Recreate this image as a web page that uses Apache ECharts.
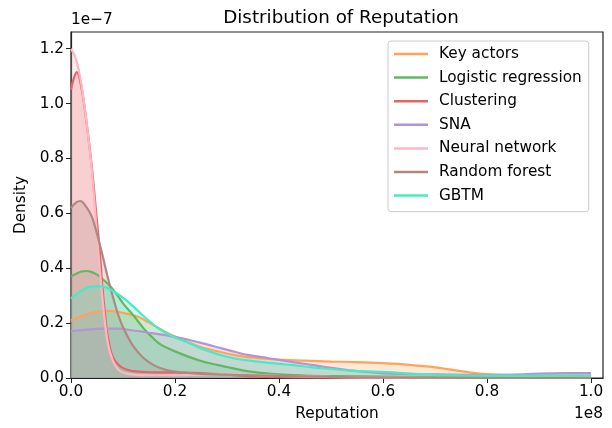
<!DOCTYPE html>
<html><head><meta charset="utf-8">
<script src="https://cdn.jsdelivr.net/npm/echarts@6/dist/echarts.min.js"></script>
<style>html,body{margin:0;padding:0;background:#fff}#c{width:612px;height:428px}</style>
</head><body><div id="c"></div>
<script>
const seriesNames = ['Key actors','Logistic regression','Clustering','SNA','Neural network','Random forest','GBTM'];
const seriesColors = ['#FFA35A','#62B862','#E06668','#B494D1','#FFB6C1','#AF8981','#45EBC8'];
const xTicks = [0,0.2,0.4,0.6,0.8,1.0];
const yTicks = [0,0.2,0.4,0.6,0.8,1.0,1.2];

const keyActors = [[0,0.21],[0.02,0.225],[0.04,0.238],[0.06,0.244],[0.07,0.245],[0.09,0.241],[0.11,0.233],[0.13,0.222],[0.15,0.202],[0.18,0.17],[0.2,0.151],[0.22,0.135],[0.25,0.113],[0.28,0.098],[0.31,0.085],[0.34,0.076],[0.38,0.07],[0.41,0.066],[0.45,0.063],[0.5,0.06],[0.55,0.058],[0.6,0.054],[0.65,0.048],[0.7,0.039],[0.75,0.025],[0.8,0.014],[0.85,0.01],[0.9,0.009],[0.95,0.009],[1.0,0.009]];
const logisticRegression = [[0,0.37],[0.01,0.38],[0.02,0.388],[0.03,0.39],[0.04,0.386],[0.05,0.377],[0.06,0.362],[0.075,0.335],[0.09,0.3],[0.1,0.272],[0.12,0.228],[0.14,0.18],[0.15,0.16],[0.17,0.125],[0.2,0.097],[0.25,0.062],[0.3,0.04],[0.35,0.022],[0.4,0.013],[0.45,0.009],[0.5,0.007],[0.6,0.005],[0.7,0.003],[0.8,0.002],[0.9,0.001],[1.0,0.001]];
const clustering = [[0,1.05],[0.005,1.09],[0.011,1.115],[0.02,1.06],[0.03,0.93],[0.04,0.77],[0.05,0.57],[0.055,0.47],[0.06,0.34],[0.065,0.24],[0.07,0.16],[0.075,0.11],[0.08,0.078],[0.09,0.05],[0.1,0.036],[0.11,0.029],[0.12,0.025],[0.15,0.021],[0.2,0.02],[0.25,0.018],[0.3,0.012],[0.35,0.006],[0.4,0.003],[0.5,0.001],[0.6,0],[0.8,0],[1.0,0]];
const sna = [[0,0.17],[0.03,0.176],[0.06,0.18],[0.09,0.18],[0.12,0.173],[0.15,0.165],[0.2,0.15],[0.22,0.142],[0.25,0.128],[0.28,0.113],[0.31,0.098],[0.34,0.084],[0.38,0.072],[0.41,0.063],[0.44,0.054],[0.47,0.046],[0.5,0.037],[0.55,0.025],[0.6,0.017],[0.7,0.013],[0.8,0.011],[0.85,0.012],[0.9,0.016],[0.95,0.018],[1.0,0.018]];
const neuralNetwork = [[0,1.2],[0.01,1.16],[0.02,1.07],[0.03,0.93],[0.04,0.76],[0.05,0.52],[0.06,0.3],[0.07,0.135],[0.08,0.065],[0.09,0.033],[0.1,0.02],[0.12,0.012],[0.15,0.01],[0.2,0.01],[0.25,0.012],[0.3,0.013],[0.35,0.011],[0.4,0.008],[0.5,0.004],[0.6,0.002],[0.7,0.001],[0.8,0],[1.0,0]];
const randomForest = [[0,0.62],[0.01,0.64],[0.018,0.645],[0.03,0.622],[0.04,0.588],[0.05,0.525],[0.06,0.452],[0.07,0.372],[0.08,0.3],[0.09,0.235],[0.1,0.185],[0.12,0.115],[0.14,0.072],[0.16,0.046],[0.18,0.031],[0.2,0.023],[0.25,0.015],[0.3,0.012],[0.35,0.01],[0.4,0.008],[0.5,0.004],[0.6,0.002],[0.7,0.001],[0.8,0],[1.0,0]];
const gbtm = [[0,0.29],[0.01,0.305],[0.02,0.318],[0.03,0.328],[0.04,0.333],[0.053,0.335],[0.065,0.332],[0.08,0.318],[0.1,0.293],[0.12,0.26],[0.14,0.225],[0.16,0.192],[0.18,0.167],[0.2,0.148],[0.22,0.133],[0.25,0.108],[0.28,0.088],[0.31,0.073],[0.34,0.064],[0.38,0.055],[0.41,0.05],[0.45,0.042],[0.48,0.036],[0.54,0.027],[0.6,0.022],[0.66,0.015],[0.72,0.011],[0.8,0.009],[0.9,0.009],[1.0,0.009]];

const allData = [keyActors, logisticRegression, clustering, sna, neuralNetwork, randomForest, gbtm];
const FONT = 'DejaVu Sans';
const FS = 15.3;

const areaSeries = seriesNames.map((n,i)=>({
  name:n+' fill', type:'line', data:allData[i], smooth:0.35, showSymbol:false, silent:true,
  lineStyle:{width:0, opacity:0},
  areaStyle:{color:seriesColors[i], opacity:0.25},
  z: 2
}));
const lineSeries = seriesNames.map((n,i)=>({
  name:n, type:'line', data:allData[i], smooth:0.35, showSymbol:false,
  color:seriesColors[i],
  lineStyle:{color:seriesColors[i], width:2.2},
  z: 3
}));

const chart = echarts.init(document.getElementById('c'), null, {renderer:'canvas'});
chart.setOption({
  animation: false,
  backgroundColor: '#fff',
  title: {text:'Distribution of Reputation', left: 336, textAlign:'center', top: 4,
    textStyle:{fontFamily:FONT, fontSize:18.3, fontWeight:'normal', color:'#000'}},
  grid: {left:71, right:9, top:32, bottom:50, show:true, borderColor:'#222', borderWidth:1.2, backgroundColor:'transparent'},
  legend: {
    data: seriesNames, orient:'vertical', left:388, top:41, selectedMode:false,
    icon:'rect', itemWidth:34, itemHeight:2.5, itemGap:7.6,
    padding:[5,7,8,6], backgroundColor:'#fff', borderColor:'#cccccc', borderWidth:1, borderRadius:3,
    textStyle:{fontFamily:FONT, fontSize:FS, color:'#000', lineHeight:16, padding:[0,0,0,6]}
  },
  xAxis: {type:'value', min:0, max:1.023,
    name:'Reputation', nameLocation:'middle', nameGap:29,
    nameTextStyle:{fontFamily:FONT, fontSize:FS, color:'#000'},
    axisLine:{show:true, onZero:false, lineStyle:{color:'#222', width:1.2}},
    axisTick:{show:true, length:5, customValues:xTicks, lineStyle:{color:'#222'}},
    axisLabel:{customValues:xTicks, fontFamily:FONT, fontSize:FS, color:'#000', margin:7,
      formatter:v=>v.toFixed(1)},
    splitLine:{show:false}},
  yAxis: {type:'value', min:0, max:1.261,
    name:'Density', nameLocation:'middle', nameGap:41,
    nameTextStyle:{fontFamily:FONT, fontSize:FS, color:'#000'},
    axisLine:{show:true, lineStyle:{color:'#222', width:1.2}},
    axisTick:{show:true, length:5, customValues:yTicks, lineStyle:{color:'#222'}},
    axisLabel:{customValues:yTicks, fontFamily:FONT, fontSize:FS, color:'#000', margin:7,
      formatter:v=>v.toFixed(1)},
    splitLine:{show:false}},
  graphic: [
    {type:'text', left:71, top:13, style:{text:'1e\u22127', font:FS+'px "DejaVu Sans"', fill:'#000'}},
    {type:'text', right:9, top:407, style:{text:'1e8', font:FS+'px "DejaVu Sans"', fill:'#000'}}
  ],
  series: areaSeries.concat(lineSeries)
});
</script></body></html>
